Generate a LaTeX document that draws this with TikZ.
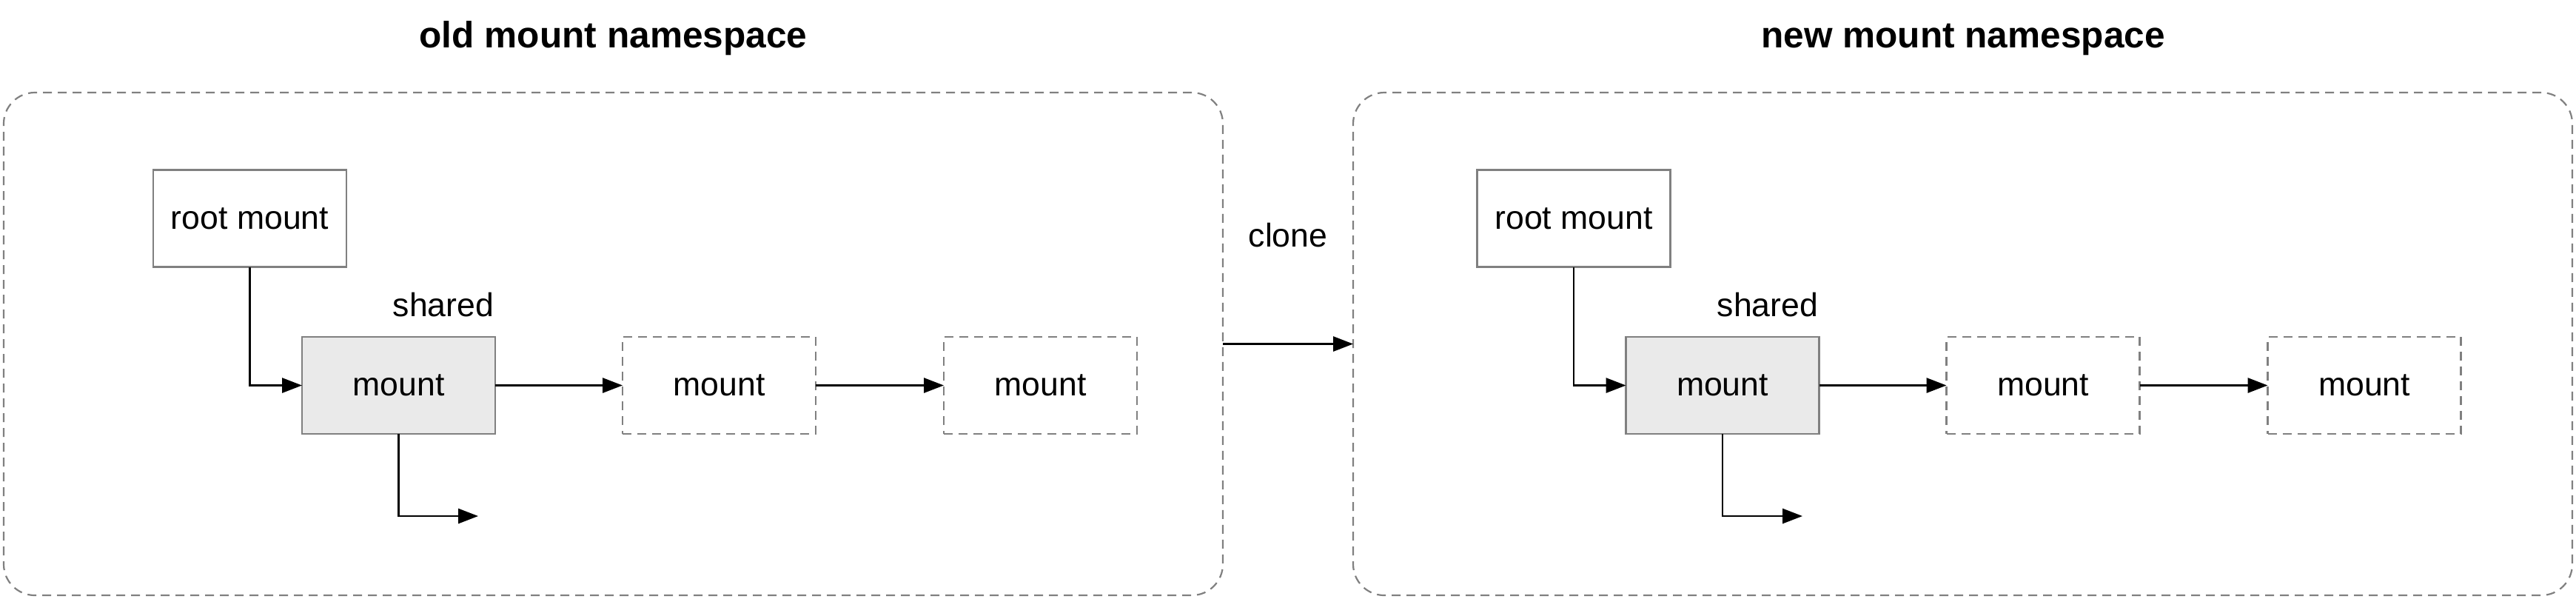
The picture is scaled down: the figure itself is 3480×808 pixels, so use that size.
\documentclass[tikz,border=0pt]{standalone}
\usepackage{fontspec}
\setmainfont{Liberation Sans}
\usetikzlibrary{arrows.meta}
\definecolor{edgegray}{RGB}{128,128,128}
\definecolor{sharedfill}{RGB}{234,234,234}
\tikzset{
  container/.style={draw=edgegray, line width=0.55pt, dash pattern=on 3pt off 2pt,
    rounded corners=10.5pt, minimum width=411.75pt, minimum height=169.75pt,
    inner sep=0pt, outer sep=0pt},
  mountbox/.style={draw=edgegray, line width=0.55pt, minimum width=65.25pt,
    minimum height=32.75pt, inner sep=0pt, outer sep=0pt,
    font=\fontsize{11.15}{13}\selectfont},
  sharedbox/.style={mountbox, fill=sharedfill},
  copybox/.style={mountbox, dash pattern=on 3pt off 2pt},
  titletext/.style={anchor=base, inner sep=0pt, font=\fontsize{12.4}{15}\selectfont\bfseries},
  labeltext/.style={inner sep=0pt, font=\fontsize{11.15}{13}\selectfont},
  link/.style={line width=0.6pt, -{Triangle[length=6.7pt,width=5pt]}}
}
\begin{document}
\begin{tikzpicture}[x=0.25pt, y=-0.25pt]
\useasboundingbox (0,0) rectangle (3480,808);

% containers and titles
\node[container] (oldns) at (828.5,464.5) {};
\node[container] (newns) at (2651.5,464.5) {};
\node[titletext] (oldtitle) at (828.5,64) {old mount namespace};
\node[titletext] (newtitle) at (2652,64) {new mount namespace};

% clone
\draw[link] (oldns.east) -- (newns.west);
\node[labeltext, anchor=base] (clonelabel) at (1740,333) {clone};

% old namespace
\node[mountbox] (oroot) at (337.5,295) {root mount};
\node[sharedbox] (oshared) at (538.5,520.5) {mount};
\node[copybox] (om2) at (971.5,520.5) {mount};
\node[copybox] (om3) at (1405.5,520.5) {mount};
\node[labeltext, anchor=base east] (osharedlabel) at (668,427) {shared};
\coordinate (otail) at (646,697);
\draw[link] (oroot.south) |- (oshared.west);
\draw[link] (oshared.east) -- (om2.west);
\draw[link] (om2.east) -- (om3.west);
\draw[link] (oshared.south) |- (otail);

% new namespace
\node[mountbox] (nroot) at (2126,295) {root mount};
\node[sharedbox] (nshared) at (2327,520.5) {mount};
\node[copybox] (nm2) at (2760,520.5) {mount};
\node[copybox] (nm3) at (3194,520.5) {mount};
\node[labeltext, anchor=base east] (nsharedlabel) at (2457,427) {shared};
\coordinate (ntail) at (2435,697);
\draw[link] (nroot.south) |- (nshared.west);
\draw[link] (nshared.east) -- (nm2.west);
\draw[link] (nm2.east) -- (nm3.west);
\draw[link] (nshared.south) |- (ntail);
\end{tikzpicture}
\end{document}
